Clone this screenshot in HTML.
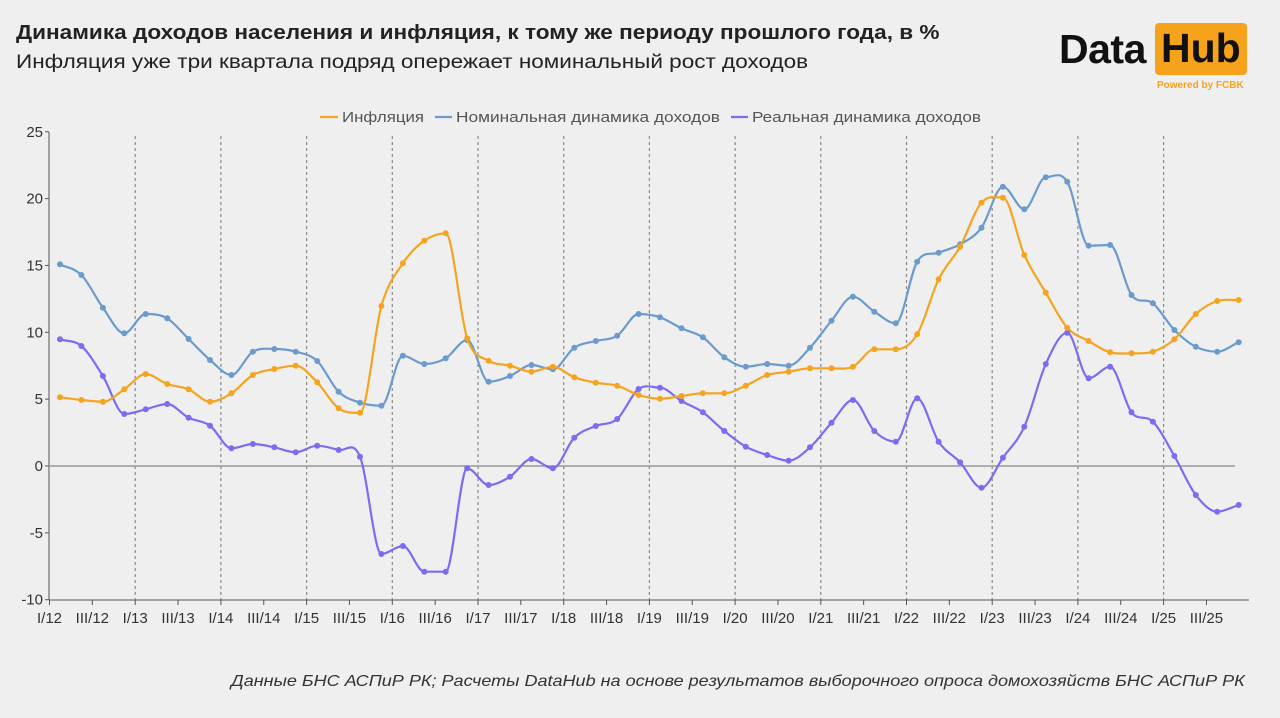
<!DOCTYPE html>
<html><head><meta charset="utf-8">
<style>
html,body{margin:0;padding:0;background:#efefef;}
body{width:1280px;height:718px;position:relative;overflow:hidden;font-family:"Liberation Sans","DejaVu Sans",sans-serif;}
.t1{position:absolute;left:16px;top:22px;font-size:20px;font-weight:bold;color:#222;transform-origin:0 0;transform:scaleX(1.13);white-space:nowrap;}
.t2{position:absolute;left:16px;top:51px;font-size:19.5px;color:#222;transform-origin:0 0;transform:scaleX(1.155);white-space:nowrap;}
.foot{position:absolute;left:231px;top:673px;font-size:16px;font-style:italic;color:#333;transform-origin:0 0;transform:scaleX(1.127);white-space:nowrap;}
.data{position:absolute;left:1059px;top:26px;font-size:41px;font-weight:bold;color:#111;letter-spacing:-0.5px;}
.hub{position:absolute;left:1155px;top:23px;width:92px;height:52px;background:#f7a21b;border-radius:4px;}
.hub span{position:absolute;left:6px;top:2px;font-size:41px;font-weight:bold;color:#111;}
.pw{position:absolute;left:1157px;top:80px;font-size:10px;font-weight:bold;color:#f7a21b;}
</style></head><body>
<div class="t1">Динамика доходов населения и инфляция, к тому же периоду прошлого года, в %</div>
<div class="t2">Инфляция уже три квартала подряд опережает номинальный рост доходов</div>
<div class="data">Data</div>
<div class="hub"><span>Hub</span></div>
<div class="pw">Powered by FCBK</div>
<svg id="c" width="1280" height="718" style="position:absolute;left:0;top:0" xmlns="http://www.w3.org/2000/svg" font-family="Liberation Sans, sans-serif"></svg>
<div class="foot">Данные БНС АСПиР РК; Расчеты DataHub на основе результатов выборочного опроса домохозяйств БНС АСПиР РК</div>
<script>
var inf=[832,840,845,808,762,792,808,845,820,765,747,737,787,865,878,558,430,362,340,655,722,737,755,740,772,788,797,825,836,828,820,820,797,765,755,745,745,740,688,688,643,478,380,248,233,405,518,623,663,697,700,695,658,582,543,540];
var nom=[433,465,563,640,582,595,657,720,765,695,687,695,723,815,848,857,707,732,715,660,785,768,735,748,683,663,647,582,592,625,652,712,740,732,737,683,602,530,575,610,425,398,373,323,200,268,172,185,377,375,525,550,630,680,695,667];
var real=[658,678,768,882,868,852,893,917,985,972,982,997,977,990,1010,1302,1278,1355,1355,1045,1095,1070,1017,1045,953,918,897,807,803,843,877,933,980,1005,1022,982,908,840,933,965,835,965,1027,1103,1013,920,732,638,775,740,877,905,1008,1125,1175,1155];
var s='';
for(var v=25;v>=-10;v-=5){var y=466-v*13.37;s+='<text x="43" y="'+(y+5)+'" font-size="15" fill="#333" text-anchor="end">'+v+'</text>';s+='<line x1="45" x2="49" y1="'+y+'" y2="'+y+'" stroke="#555"/>';}
for(var k=1;k<=13;k++){var x=49.5+85.7*k;s+='<line x1="'+x+'" x2="'+x+'" y1="136" y2="600" stroke="#888" stroke-width="1.2" stroke-dasharray="3,3"/>';}
var rom=['I','III'];
for(var k=0;k<28;k++){var x=49.5+42.85*k;s+='<line x1="'+x+'" x2="'+x+'" y1="600" y2="605" stroke="#555"/>';var yr=12+Math.floor(k/2);s+='<text x="'+x+'" y="623" font-size="15" fill="#333" text-anchor="middle">'+rom[k%2]+'/'+yr+'</text>';}
s+='<line x1="49" x2="49" y1="132" y2="600" stroke="#555"/>';
s+='<line x1="49" x2="1249" y1="600" y2="600" stroke="#555"/>';
s+='<line x1="49" x2="1235" y1="466" y2="466" stroke="#999" stroke-width="1.5"/>';
function path(a,col){var p=a.map(function(z,i){return [60+i*21.43,120+z/3];});
var n=p.length,m=[];
for(var i=0;i<n;i++){var dp=i>0?p[i][1]-p[i-1][1]:0,dn=i<n-1?p[i+1][1]-p[i][1]:0;
 if(i==0)m.push(dn);else if(i==n-1)m.push(dp);else if(dp*dn<=0)m.push(0);else m.push((dp+dn)/2);}
var d='M'+p[0][0]+' '+p[0][1];var h=21.43/3;
for(var i=0;i<n-1;i++){var p1=p[i],p2=p[i+1];
d+=' C'+(p1[0]+h).toFixed(1)+' '+(p1[1]+m[i]/3).toFixed(1)+' '+(p2[0]-h).toFixed(1)+' '+(p2[1]-m[i+1]/3).toFixed(1)+' '+p2[0].toFixed(1)+' '+p2[1].toFixed(1);}
var r='<path d="'+d+'" fill="none" stroke="'+col+'" stroke-width="2.2"/>';
p.forEach(function(q){r+='<circle cx="'+q[0].toFixed(1)+'" cy="'+q[1].toFixed(1)+'" r="3" fill="'+col+'"/>';});return r;}
s+=path(nom,'#6a9bcc');s+=path(real,'#7b6cf0');s+=path(inf,'#f4a41f');
s+='<line x1="320" x2="338" y1="117" y2="117" stroke="#f4a41f" stroke-width="2.2"/><text x="342" y="122" font-size="15" fill="#555" textLength="82" lengthAdjust="spacingAndGlyphs">Инфляция</text>';
s+='<line x1="435" x2="452" y1="117" y2="117" stroke="#6a9bcc" stroke-width="2.2"/><text x="456" y="122" font-size="15" fill="#555" textLength="264" lengthAdjust="spacingAndGlyphs">Номинальная динамика доходов</text>';
s+='<line x1="731" x2="748" y1="117" y2="117" stroke="#7b6cf0" stroke-width="2.2"/><text x="752" y="122" font-size="15" fill="#555" textLength="229" lengthAdjust="spacingAndGlyphs">Реальная динамика доходов</text>';
document.getElementById('c').innerHTML=s;
</script>
</body></html>
